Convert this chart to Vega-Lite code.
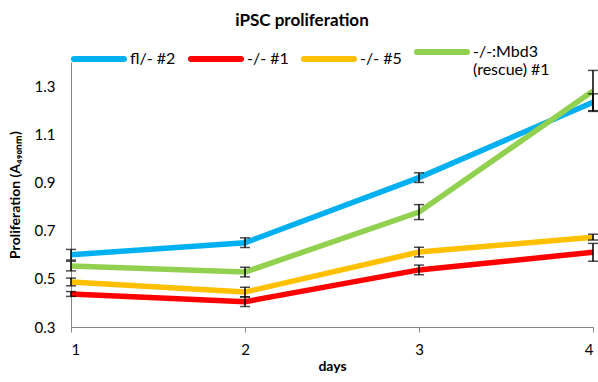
{
  "$schema": "https://vega.github.io/schema/vega-lite/v6.json",
  "width": 522,
  "height": 265,
  "autosize": {"type": "none"},
  "padding": {"left": 71, "top": 62, "right": 5, "bottom": 55},
  "background": "white",
  "config": {"font": "Lato", "view": {"stroke": null}},
  "title": {"text": "iPSC proliferation", "fontSize": 17, "fontWeight": "bold", "color": "black", "anchor": "middle", "dx": -30, "offset": -6},
  "data": {
    "values": [
      {"series": "fl/- #2", "day": 1, "value": 0.600, "err": 0.022},
      {"series": "fl/- #2", "day": 2, "value": 0.650, "err": 0.02},
      {"series": "fl/- #2", "day": 3, "value": 0.920, "err": 0.02},
      {"series": "fl/- #2", "day": 4, "value": 1.233, "err": 0.035},
      {"series": "-/- #1", "day": 1, "value": 0.437, "err": 0.01},
      {"series": "-/- #1", "day": 2, "value": 0.405, "err": 0.02},
      {"series": "-/- #1", "day": 3, "value": 0.537, "err": 0.02},
      {"series": "-/- #1", "day": 4, "value": 0.610, "err": 0.037},
      {"series": "-/- #5", "day": 1, "value": 0.487, "err": 0.016},
      {"series": "-/- #5", "day": 2, "value": 0.445, "err": 0.02},
      {"series": "-/- #5", "day": 3, "value": 0.611, "err": 0.02},
      {"series": "-/- #5", "day": 4, "value": 0.673, "err": 0.012},
      {"series": "-/-:Mbd3 (rescue) #1", "day": 1, "value": 0.553, "err": 0.02},
      {"series": "-/-:Mbd3 (rescue) #1", "day": 2, "value": 0.528, "err": 0.02},
      {"series": "-/-:Mbd3 (rescue) #1", "day": 3, "value": 0.777, "err": 0.031},
      {"series": "-/-:Mbd3 (rescue) #1", "day": 4, "value": 1.280, "err": 0.085}
    ]
  },
  "layer": [
    {
      "mark": {"type": "line", "strokeWidth": 5.5, "clip": false},
      "encoding": {
        "x": {
          "field": "day", "type": "quantitative", "title": "days",
          "scale": {"domain": [1, 4], "nice": false, "zero": false},
          "axis": {
            "values": [1, 2, 3, 4], "format": "d", "grid": false,
            "domainColor": "#868686", "tickColor": "#868686", "tickSize": 5,
            "labelFontSize": 15, "labelColor": "black", "labelPadding": 10,
            "titleFontSize": 14, "titleFontWeight": "bold", "titleColor": "black", "titlePadding": 2
          }
        },
        "y": {
          "field": "value", "type": "quantitative", "title": "Proliferation (A₄₉₀ₙₘ)",
          "scale": {"domain": [0.3, 1.4], "nice": false, "zero": false},
          "axis": {
            "values": [0.3, 0.5, 0.7, 0.9, 1.1, 1.3], "format": ".1f", "grid": false,
            "ticks": false, "domainColor": "#868686",
            "labelFontSize": 15, "labelColor": "black", "labelPadding": 16,
            "titleFontSize": 14, "titleFontWeight": "bold", "titleColor": "black", "titlePadding": 12
          }
        },
        "color": {
          "field": "series", "type": "nominal",
          "scale": {
            "domain": ["fl/- #2", "-/- #1", "-/- #5", "-/-:Mbd3 (rescue) #1"],
            "range": ["#00B0F0", "#FF0000", "#FFC000", "#92D050"]
          },
          "legend": {
            "orient": "none", "legendX": 0, "legendY": -38, "direction": "horizontal",
            "title": null, "symbolType": "stroke", "symbolSize": 2500, "symbolStrokeWidth": 6,
            "labelFontSize": 16, "labelColor": "black", "labelOffset": 3, "columnPadding": 3,
            "labelLimit": 200,
            "labelExpr": "datum.label == '-/-:Mbd3 (rescue) #1' ? ['-/-:Mbd3', '(rescue) #1'] : datum.label",
            "encode": {"symbols": {"update": {"strokeCap": {"value": "round"}}}}
          }
        }
      }
    },
    {
      "mark": {"type": "errorbar", "ticks": {"size": 10, "thickness": 1.5, "color": "black"}, "rule": {"strokeWidth": 1.5, "color": "black"}, "clip": false},
      "encoding": {
        "x": {"field": "day", "type": "quantitative", "title": "days"},
        "y": {"field": "value", "type": "quantitative", "title": "Proliferation (A₄₉₀ₙₘ)"},
        "yError": {"field": "err"}
      }
    }
  ]
}
